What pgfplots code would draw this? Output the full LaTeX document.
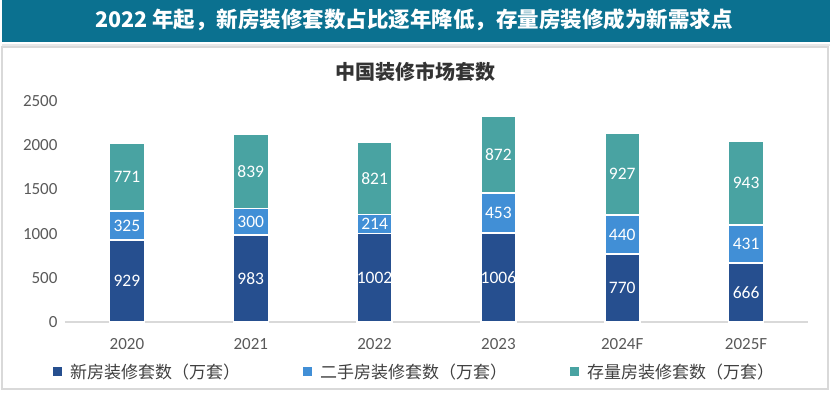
\documentclass[border=0pt]{standalone}
\usepackage{pgfplots}
\pgfplotsset{compat=1.18}
\usepackage{fontspec}
\setmainfont{Carlito}
\newfontfamily\cjk{Noto Sans CJK SC}
\definecolor{newc}{HTML}{264F8F}
\definecolor{secc}{HTML}{418FD6}
\definecolor{stockc}{HTML}{49A3A2}
\definecolor{banner}{HTML}{0B7190}
\definecolor{boxc}{HTML}{D9D9D9}
\definecolor{tickc}{HTML}{595959}
\definecolor{titlec}{HTML}{333333}
\definecolor{legc}{HTML}{404040}
\pgfkeys{/pgf/number format/.cd, assume math mode=true, 1000 sep={}}
\begin{document}
\begin{tikzpicture}[x=1pt,y=1pt]
\path[use as bounding box] (0,0) rectangle (830,392);
\fill[banner] (2,350) rectangle (830,392);
\draw[boxc!60, line width=2pt] (2,347) -- (830,347);
\draw[boxc, line width=1.5pt] (2,3) rectangle (828,345);
\node[text=white, font=\cjk\bfseries\fontsize{21.5}{24}\selectfont] at (414,372) {2022 年起，新房装修套数占比逐年降低，存量房装修成为新需求点};
\node[text=titlec, font=\cjk\bfseries\fontsize{20}{22}\selectfont] at (415,320) {中国装修市场套数};
\begin{axis}[
  at={(65pt,70pt)}, anchor=south west,
  scale only axis, width=743pt, height=221pt,
  ybar stacked, bar width=35pt,
  xmin=-0.5, xmax=5.5, ymin=0, ymax=2500,
  axis x line*=bottom, axis y line*=left,
  x axis line style={draw=boxc, line width=1.5pt},
  y axis line style={draw=none},
  major tick length=0pt,
  xtick={0,...,5},
  xticklabels={2020,2021,2022,2023,2024F,2025F},
  ytick={0,500,...,2500},
  /pgf/number format/assume math mode=true,
  /pgf/number format/1000 sep={},
  tick label style={font=\fontsize{17}{17}\selectfont, text=tickc},
  xticklabel style={yshift=-13pt},
  yticklabel style={xshift=-4pt},
  visualization depends on=rawy \as \rawy,
  nodes near coords={\pgfmathprintnumber{\rawy}},
  every node near coord/.append style={anchor=center, text=white,
     font=\fontsize{17.5}{17}\selectfont},
  legend style={at={(-0.016,-0.226)}, anchor=west, draw=none, fill=none,
     inner sep=0pt, outer sep=0pt,
     nodes={inner sep=0pt, font=\cjk\fontsize{17}{18}\selectfont, text=legc},
     /tikz/every odd column/.append style={column sep=8pt},
     /tikz/every even column/.append style={column sep=63pt}},
  legend columns=3,
  legend image code/.code={\fill[#1, draw=none] (0pt,-4.5pt) rectangle (9pt,4.5pt);},
]
\addplot[fill=newc, draw=white, line width=1.5pt] coordinates {(0,929) (1,983) (2,1002) (3,1006) (4,770) (5,666)};
\addplot[fill=secc, draw=white, line width=1.5pt] coordinates {(0,325) (1,300) (2,214) (3,453) (4,440) (5,431)};
\addplot[fill=stockc, draw=white, line width=1.5pt] coordinates {(0,771) (1,839) (2,821) (3,872) (4,927) (5,943)};
\legend{新房装修套数（万套）,二手房装修套数（万套）,存量房装修套数（万套）}
\end{axis}
\end{tikzpicture}
\end{document}
